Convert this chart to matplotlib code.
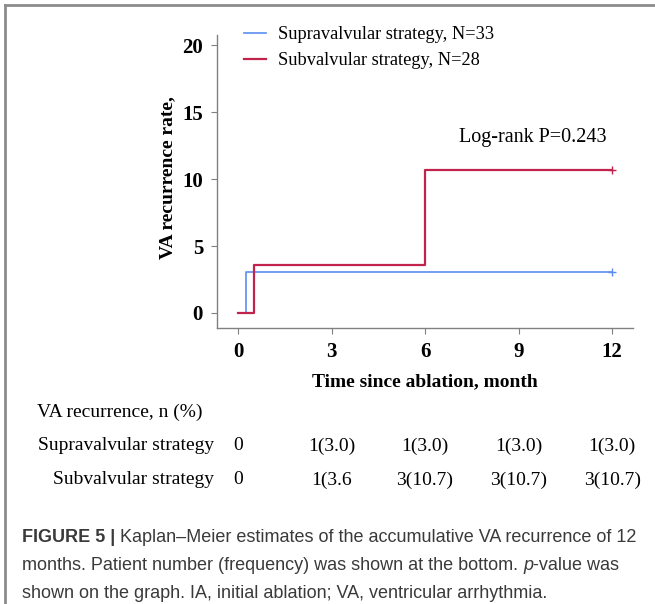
import matplotlib
matplotlib.use("Agg")
import matplotlib.pyplot as plt
from matplotlib import transforms
from matplotlib.lines import Line2D
from matplotlib.text import Annotation

# | data |---------------------------------------------------------------------------------------------------------|
supra_time = [0, 0.27, 12]
supra_rate = [0, 3.03, 3.03]
sub_time = [0, 0.5, 6, 12]
sub_rate = [0, 3.57, 10.71, 10.71]

x_ticks = [0, 3, 6, 9, 12]
y_ticks = [0, 5, 10, 15, 20]

legend_labels = ["Supravalvular strategy, N=33", "Subvalvular strategy, N=28"]
pvalue_text = "Log-rank P=0.243"

table_title = "VA recurrence, n (%)"
table_rows = ["Supravalvular strategy", "Subvalvular strategy"]
supra_counts = ["0", "1(3.0)", "1(3.0)", "1(3.0)", "1(3.0)"]
sub_counts = ["0", "1(3.6", "3(10.7)", "3(10.7)", "3(10.7)"]

caption_lines = [
    [("FIGURE 5 |", "normal", "bold"),
     (" Kaplan\u2013Meier estimates of the accumulative VA recurrence of 12", "normal", "normal")],
    [("months. Patient number (frequency) was shown at the bottom. ", "normal", "normal"),
     ("p", "italic", "normal"), ("-value was", "normal", "normal")],
    [("shown on the graph. IA, initial ablation; VA, ventricular arrhythmia.", "normal", "normal")],
]

# | style |--------------------------------------------------------------------------------------------------------|
W, H = 655, 604
blue = "#5b8def"
red = "#c0234b"
gray = "#808080"
serif = ["Liberation Serif", "DejaVu Serif"]
sans = ["Liberation Sans", "DejaVu Sans"]

fig = plt.figure(figsize=(W / 100, H / 100), dpi=100)
fig.patch.set_facecolor("white")


def fx(px):
    return px / W


def fy(py):
    return 1 - py / H


# frame lines (top and left)
fig.add_artist(Line2D([fx(5), 1], [fy(5), fy(5)], color="#8c8c8c", lw=2, transform=fig.transFigure))
fig.add_artist(Line2D([fx(5), fx(5)], [fy(5), 0], color="#8c8c8c", lw=2, transform=fig.transFigure))

# | KM curves |----------------------------------------------------------------------------------------------------|
ax = fig.add_axes([fx(217), fy(328), fx(633) - fx(217), fy(35) - fy(328)])
ax.step(supra_time, supra_rate, where="post", color=blue, lw=1.2, label=legend_labels[0])
ax.step(sub_time, sub_rate, where="post", color=red, lw=1.6, label=legend_labels[1])
ax.plot(supra_time[-1], supra_rate[-1], marker="+", color=blue, ms=6, mew=1)
ax.plot(sub_time[-1], sub_rate[-1], marker="+", color=red, ms=6, mew=1)

ax.set_xlim(-0.674, 12.67)
ax.set_ylim(-1.12, 20.75)
ax.set_xticks(x_ticks)
ax.set_yticks(y_ticks)
for s in ["top", "right"]:
    ax.spines[s].set_visible(False)
for s in ["left", "bottom"]:
    ax.spines[s].set_color(gray)
    ax.spines[s].set_linewidth(1.0)
ax.tick_params(colors=gray, length=4, width=0.8, labelcolor="black", pad=6)
for lab in ax.get_xticklabels() + ax.get_yticklabels():
    lab.set_family(serif)
    lab.set_fontweight("bold")
    lab.set_fontsize(15)

ax.set_xlabel("Time since ablation, month", family=serif, fontweight="bold", fontsize=14, labelpad=8)
ax.set_ylabel("VA recurrence rate,", family=serif, fontweight="bold", fontsize=14)
ax.yaxis.set_label_coords(-0.097, 0.512)

ax.legend(loc="upper left", bbox_to_anchor=(0.025, 1.087), frameon=False,
          prop={"family": serif, "size": 13.2}, handlelength=1.2, handletextpad=0.65,
          labelspacing=0.5)

ax.text(7.09, 13.13, pvalue_text, family=serif, fontsize=14.5, va="center", ha="left")

# | risk table |---------------------------------------------------------------------------------------------------|
blend = transforms.blended_transform_factory(ax.transData, fig.transFigure)
fig.text(fx(37), fy(412), table_title, family=serif, fontsize=14, va="center", ha="left")
for row_label, counts, ypx in [(table_rows[0], supra_counts, 446), (table_rows[1], sub_counts, 480)]:
    fig.text(fx(214), fy(ypx), row_label, family=serif, fontsize=14, va="center", ha="right")
    for xv, c in zip(x_ticks, counts):
        fig.text(xv, fy(ypx), c, family=serif, fontsize=14, va="center", ha="center", transform=blend)

# | caption |------------------------------------------------------------------------------------------------------|
for line, ypx in zip(caption_lines, [538, 566, 593]):
    prev = None
    for txt, style, weight in line:
        if prev is None:
            prev = fig.text(fx(22), fy(ypx), txt, family=sans, fontsize=13, style=style, fontweight=weight,
                            color="#3a3a3a", va="center", ha="left")
        else:
            prev = fig.add_artist(Annotation(
                txt, xy=(1, 0), xycoords=prev, va="bottom", ha="left", family=sans, fontsize=13,
                style=style, fontweight=weight, color="#3a3a3a"))

fig.savefig("out.png", dpi=100)
